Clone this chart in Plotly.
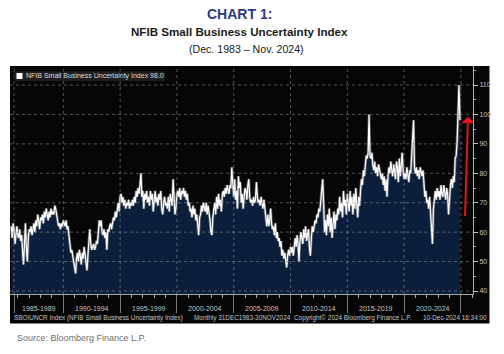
import pandas as pd
import plotly.graph_objects as go

# ---------------- data (NFIB Small Business Uncertainty Index, monthly) ----------------
vals_1985_1989 = [
    62, 58, 63, 61, 56, 60, 62, 59,                      # 1985 May-Dec
    58, 61, 57, 59, 55, 49, 56, 63, 55, 50, 58, 61,      # 1986
    60, 62, 59, 61, 63, 60, 64, 62, 66, 64, 61, 65,      # 1987
    64, 66, 63, 67, 65, 68, 66, 64, 67, 65, 68, 66,      # 1988
    67, 66, 69, 68, 66, 64, 62, 63, 61, 63, 62, 64,      # 1989
]
vals_1990s = [
    63, 62, 64, 61, 62, 58, 55, 53, 54, 52, 50, 48,      # 1990
    46, 51, 53, 50, 54, 52, 49, 53, 51, 55, 52, 50,      # 1991
    47, 52, 57, 61, 56, 54, 55, 56, 54, 55, 57, 56,      # 1992
    60, 64, 62, 64, 60, 59, 61, 58, 60, 54, 61, 60,      # 1993
    62, 63, 61, 63, 65, 64, 67, 65, 68, 70, 67, 72,      # 1994
    73, 70, 72, 69, 71, 68, 70, 69, 71, 68, 70, 69,      # 1995
    71, 69, 72, 70, 74, 72, 75, 73, 76, 80, 72, 74,      # 1996
    68, 73, 71, 74, 70, 72, 69, 74, 71, 73, 67, 72,      # 1997
    74, 70, 72, 69, 73, 71, 74, 68, 66, 70, 72, 69,      # 1998
    70, 68, 72, 67, 73, 71, 69, 78, 72, 66, 68, 73,      # 1999
]
vals_2000s = [
    74, 72, 75, 71, 74, 73, 75, 72, 74, 71, 73, 69,      # 2000
    70, 67, 68, 65, 69, 66, 68, 64, 66, 63, 59, 65,      # 2001
    66, 69, 67, 70, 68, 67, 70, 66, 69, 67, 64, 60,      # 2002
    59, 65, 67, 70, 66, 72, 68, 73, 69, 71, 67, 73,      # 2003
    74, 72, 75, 73, 76, 74, 73, 76, 75, 82, 76, 72,      # 2004
    78, 71, 74, 68, 79, 75, 77, 70, 73, 68, 72, 75,      # 2005
    74, 71, 76, 78, 72, 70, 71, 69, 72, 70, 71, 77,      # 2006
    72, 70, 71, 69, 72, 70, 68, 71, 67, 64, 62, 66,      # 2007
    62, 64, 68, 63, 61, 62, 59, 63, 58, 60, 57, 58,      # 2008
    55, 57, 52, 54, 51, 53, 50, 48, 52, 54, 52, 55,      # 2009
]
vals_2010s = [
    53, 55, 52, 56, 58, 55, 59, 56, 50, 57, 60, 58,      # 2010
    56, 61, 58, 62, 57, 59, 61, 55, 52, 58, 62, 60,      # 2011
    62, 64, 63, 66, 65, 68, 67, 72, 75, 78, 70, 60,      # 2012
    64, 59, 66, 62, 68, 60, 65, 58, 63, 67, 61, 66,      # 2013
    64, 68, 66, 72, 67, 70, 65, 74, 69, 71, 66, 73,      # 2014
    70, 67, 74, 69, 72, 66, 73, 68, 75, 70, 65, 72,      # 2015
    69, 74, 78, 76, 81, 79, 83, 86, 85, 87, 100, 86,     # 2016
    85, 87, 83, 81, 84, 80, 82, 79, 83, 81, 80, 78,      # 2017
    80, 76, 79, 74, 78, 72, 79, 82, 80, 84, 81, 79,      # 2018
    83, 80, 78, 84, 82, 77, 85, 79, 83, 87, 81, 78,      # 2019
]
vals_2020s = [
    80, 78, 82, 79, 77, 81, 80, 86, 92, 98, 82, 80,      # 2020
    82, 79, 81, 78, 82, 80, 79, 81, 75, 72, 74, 70,      # 2021
    71, 68, 72, 66, 63, 56, 68, 72, 74, 71, 75, 72,      # 2022
    74, 71, 76, 73, 72, 76, 74, 71, 75, 73, 66, 72,      # 2023
    76, 78, 75, 79, 77, 85, 86, 91, 103, 110, 98,        # 2024 Jan-Nov
]
values = vals_1985_1989 + vals_1990s + vals_2000s + vals_2010s + vals_2020s
dates = pd.date_range("1985-05-01", periods=len(values), freq="MS") + pd.offsets.MonthEnd(0)

x_separators = ["1985-08-31", "1990-01-01", "1995-01-01", "2000-01-01", "2005-01-01",
                "2010-01-01", "2015-01-01", "2020-01-01", "2025-01-01"]
period_labels = ["1985-1989", "1990-1994", "1995-1999", "2000-2004", "2005-2009",
                 "2010-2014", "2015-2019", "2020-2024"]
y_ticks = [40, 50, 60, 70, 80, 90, 100, 110]
y_minor = [45, 55, 65, 75, 85, 95, 105, 115]
legend_label = "NFIB Small Business Uncertainty Index"
last_value = values[-1]

# ---------------- layout helpers (pixel -> paper) ----------------
W, H = 504, 354
PL, PR, PT, PB = 10, 473, 66, 294


def fx(px):
    return (px - PL) / (PR - PL)


def fy(py):
    return (PB - py) / (PB - PT)


BG = "#060606"
FILL = "#0b1f3d"
GRID = "rgba(150,150,150,0.55)"
AX_TXT = "#c4c4c4"
SANS = "Liberation Sans, Arial, sans-serif"

fig = go.Figure()
# soft glow under the line
fig.add_trace(go.Scatter(x=dates, y=values, mode="lines", fill="tozeroy", fillcolor=FILL,
                         line=dict(color="rgba(170,170,170,0.5)", width=2.8),
                         hoverinfo="skip", showlegend=False))
fig.add_trace(go.Scatter(x=dates, y=values, mode="lines",
                         line=dict(color="#ffffff", width=1.2), showlegend=False))

shapes = []
# black panel
shapes.append(dict(type="rect", xref="paper", yref="paper", x0=fx(10), x1=fx(489.5),
                   y0=fy(323.5), y1=fy(66), fillcolor=BG, line=dict(width=0), layer="below"))
# dotted grid (drawn above the fill, like the reference)
for d in x_separators:
    shapes.append(dict(type="line", xref="x", yref="paper", x0=d, x1=d, y0=0, y1=1,
                       line=dict(color=GRID, width=1, dash="dot"), layer="above"))
for v in y_ticks:
    shapes.append(dict(type="line", xref="paper", yref="y", x0=0, x1=1, y0=v, y1=v,
                       line=dict(color=GRID, width=1, dash="dot"), layer="above"))
# legend box + swatch
shapes.append(dict(type="rect", xref="paper", yref="paper", x0=fx(14.5), x1=fx(165),
                   y0=fy(81), y1=fy(71.5), fillcolor="#1f1f1f", line=dict(width=0), layer="above"))
shapes.append(dict(type="rect", xref="paper", yref="paper", x0=fx(16.5), x1=fx(22.5),
                   y0=fy(79), y1=fy(73), fillcolor="#ffffff", line=dict(width=0), layer="above"))

annotations = []
# titles
annotations.append(dict(text="<b>CHART 1:</b>", x=fx(239.5), y=fy(13.8), xref="paper", yref="paper",
                        xanchor="center", yanchor="middle", showarrow=False,
                        font=dict(family=SANS, size=14, color="#2d3b7c")))
annotations.append(dict(text="<b>NFIB Small Business Uncertainty Index</b>", x=fx(239), y=fy(31.8),
                        xref="paper", yref="paper", xanchor="center", yanchor="middle", showarrow=False,
                        font=dict(family=SANS, size=11.6, color="#1a1a1a")))
annotations.append(dict(text="(Dec. 1983 – Nov. 2024)", x=fx(246), y=fy(49),
                        xref="paper", yref="paper", xanchor="center", yanchor="middle", showarrow=False,
                        font=dict(family=SANS, size=10.6, color="#1a1a1a")))
# legend text
annotations.append(dict(text=f"{legend_label} {last_value:.1f}", x=fx(24), y=fy(76.3), xref="paper", yref="paper",
                        xanchor="left", yanchor="middle", showarrow=False,
                        font=dict(family=SANS, size=7, color="#dcdcdc")))
# period labels centred in each segment
seps = pd.to_datetime(x_separators)
for i, lab in enumerate(period_labels):
    mid = seps[i] + (seps[i + 1] - seps[i]) / 2
    annotations.append(dict(text=lab, x=mid, y=fy(308.5), xref="x", yref="paper",
                            xanchor="center", yanchor="middle", showarrow=False,
                            font=dict(family=SANS, size=7, color=AX_TXT)))
# footer line
footer = [("SBOIUNCR Index (NFIB Small Business Uncertainty Index)", 12, "left"),
          ("Monthly 31DEC1983-30NOV2024", 192, "left"),
          ("Copyright© 2024 Bloomberg Finance L.P.", 291.5, "left"),
          ("10-Dec-2024 16:34:00", 489, "right")]
for txt, px, anc in footer:
    annotations.append(dict(text=txt, x=fx(px), y=fy(317.7), xref="paper", yref="paper",
                            xanchor=anc, yanchor="middle", showarrow=False,
                            font=dict(family=SANS, size=6.4, color=AX_TXT)))
# source
annotations.append(dict(text="Source: Bloomberg Finance L.P.", x=fx(14.5), y=fy(337.5),
                        xref="paper", yref="paper", xanchor="left", yanchor="middle", showarrow=False,
                        font=dict(family=SANS, size=9, color="#6e6e6e")))
# red arrow
annotations.append(dict(x=fx(468), y=99.3, xref="paper", yref="y", ax=-3, ay=101,
                        axref="pixel", ayref="pixel", text="", showarrow=True,
                        arrowhead=1, arrowsize=1.1, arrowwidth=2, arrowcolor="#e3141c"))

fig.update_layout(
    width=W, height=H,
    margin=dict(l=PL, r=W - PR, t=PT, b=H - PB, pad=0),
    paper_bgcolor="#ffffff", plot_bgcolor=BG,
    showlegend=False,
    shapes=shapes, annotations=annotations,
    xaxis=dict(type="date", range=["1985-04-22", "2026-01-24"], showgrid=False, zeroline=False,
               showline=True, linecolor="#a8a8a8", linewidth=1,
               tickmode="array", tickvals=x_separators, showticklabels=False,
               ticks="outside", ticklen=18, tickcolor="#7a7a7a", tickwidth=1,
               minor=dict(ticks="outside", ticklen=3, tickcolor="#b0b0b0", dtick="M12",
                          tick0="1985-01-01", showgrid=False)),
    yaxis=dict(range=[38.98, 116.46], side="right", showgrid=False, zeroline=False,
               showline=True, linecolor="#b0b0b0", linewidth=1,
               tickmode="array", tickvals=y_ticks, ticks="outside", ticklen=4,
               tickcolor="#c0c0c0", tickfont=dict(family=SANS, size=7, color=AX_TXT),
               minor=dict(ticks="outside", ticklen=2, tickcolor="#a0a0a0", tickvals=y_minor,
                          showgrid=False)),
)

fig.write_html("out.html")
